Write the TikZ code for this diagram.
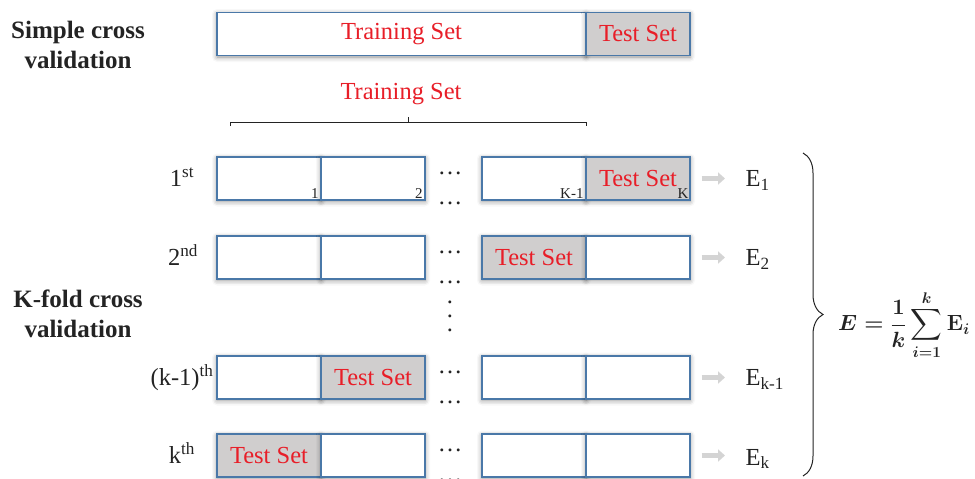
\RequirePackage{fix-cm}
\documentclass[tikz,border=0pt]{standalone}
\usepackage{amsmath}
\usepackage{amssymb}
\usepackage{fontspec}
\setmainfont{Liberation Serif}
\usetikzlibrary{arrows.meta, calc, decorations.pathreplacing, shadows.blur}
\definecolor{foldblue}{RGB}{74,120,168}
\definecolor{testgray}{RGB}{208,206,206}
\definecolor{setred}{RGB}{232,30,40}
\definecolor{arrowgray}{RGB}{212,212,212}
\definecolor{inkgray}{RGB}{35,35,35}
\newcommand{\kfoldmean}{\mbox{\boldmath$\displaystyle E = \frac{\mathbf{1}}{k}\sum_{i=\mathbf{1}}^{k}\mathbf{E}_{i}$}}

\begin{document}
\begin{tikzpicture}[x = 1pt, y = -1pt, line width = 1.3pt,
                    fold/.style = {rectangle, draw = foldblue, fill = white, minimum width = 104pt, minimum height = 43pt,
                                   inner sep = 0pt, text = setred, font = \fontsize{24.5}{28}\selectfont,
                                   blur shadow = {shadow xshift = 0pt, shadow yshift = -1.5pt, shadow blur radius = 5pt, shadow opacity = 45}},
                    testfold/.style = {fold, fill = testgray},
                    title/.style = {align = center, text = inkgray, font = \bfseries\fontsize{25}{30}\selectfont},
                    ordinal/.style = {anchor = base, text = inkgray, font = \fontsize{24.5}{28}\selectfont},
                    errlabel/.style = {anchor = base west, inner sep = 0pt, text = inkgray, font = \fontsize{24.5}{28}\selectfont},
                    foldidx/.style = {anchor = south east, inner xsep = 2.5pt, inner ysep = 1.5pt, text = inkgray, font = \fontsize{15}{18}\selectfont},
                    hdots/.style = {anchor = base, inner sep = 0pt, text = inkgray, font = \fontsize{24.5}{28}\selectfont},
                    errarrow/.style = {draw = arrowgray, line width = 5pt, -{Triangle[length = 7pt, width = 12pt]}}]
  \useasboundingbox (0, 0) rectangle (975, 479);
  \node [title] (simple) at (78, 45) {Simple cross\\validation};
  \node [title] (kfold) at (78, 313.5) {K-fold cross\\validation};
  \node [fold, minimum width = 369pt] (train) at (401.5, 34) {Training Set};
  \node [testfold] (test) at (638, 34) {Test Set};
  \node [text = setred, font = \fontsize{24.5}{28}\selectfont] (trainlabel) at (401, 94) {Training Set};
  \draw [inkgray, line width = 1pt] (230, 126) -- (230, 122) -- (586, 122) -- (586, 126);
  \draw [inkgray, line width = 1pt] (408, 122) -- (408, 117);
  \node [fold] (R1a) at (269, 178.5) {};
  \node [fold] (R1b) at (373, 178.5) {};
  \node [fold] (R1c) at (534, 178.5) {};
  \node [testfold] (R1d) at (638, 178.5) {Test Set};
  \node [fold] (R2a) at (269, 257.5) {};
  \node [fold] (R2b) at (373, 257.5) {};
  \node [testfold] (R2c) at (534, 257.5) {Test Set};
  \node [fold] (R2d) at (638, 257.5) {};
  \node [fold] (R3a) at (269, 377.5) {};
  \node [testfold] (R3b) at (373, 377.5) {Test Set};
  \node [fold] (R3c) at (534, 377.5) {};
  \node [fold] (R3d) at (638, 377.5) {};
  \node [testfold] (R4a) at (269, 455.5) {Test Set};
  \node [fold] (R4b) at (373, 455.5) {};
  \node [fold] (R4c) at (534, 455.5) {};
  \node [fold] (R4d) at (638, 455.5) {};
  \node [foldidx] (idx1) at (R1a.south east) {1};
  \node [foldidx] (idx2) at (R1b.south east) {2};
  \node [foldidx] (idx3) at (R1c.south east) {K-1};
  \node [foldidx, inner xsep = 1.5pt] (idx4) at (R1d.south east) {K};
  \node [ordinal] (ord1) at (182, 186.5) {1\textsuperscript{st}};
  \node [ordinal] (ord2) at (183, 265.5) {2\textsuperscript{nd}};
  \node [ordinal] (ord3) at (182, 385.5) {(k-1)\textsuperscript{th}};
  \node [ordinal] (ord4) at (182, 463.5) {k\textsuperscript{th}};
  \node [hdots] (dots1a) at (450, 174) {…};
  \node [hdots] (dots1b) at (450, 204) {…};
  \node [hdots] (dots2a) at (450, 253) {…};
  \node [hdots] (dots2b) at (450, 283) {…};
  \node [hdots] (dots3a) at (450, 373) {…};
  \node [hdots] (dots3b) at (450, 403) {…};
  \node [hdots] (dots4a) at (450, 451) {…};
  \node [hdots] (dots4b) at (450, 481) {…};
  \node [align = center, inner sep = 0pt, text = inkgray, font = \fontsize{24.5}{14}\selectfont] (vdots) at (450, 316) {.\\.\\.};
  \node [errlabel] (E1) at (745, 186.5) {E\textsubscript{1}};
  \node [errlabel] (E2) at (745, 265.5) {E\textsubscript{2}};
  \node [errlabel] (E3) at (745, 385.5) {E\textsubscript{k-1}};
  \node [errlabel] (E4) at (745, 465) {E\textsubscript{k}};
  \draw [errarrow] ([xshift = 11pt]R1d.east) -- ($(R1d.east -| E1.west) + (-20, 0)$);
  \draw [errarrow] ([xshift = 11pt]R2d.east) -- ($(R2d.east -| E2.west) + (-20, 0)$);
  \draw [errarrow] ([xshift = 11pt]R3d.east) -- ($(R3d.east -| E3.west) + (-20, 0)$);
  \draw [errarrow] ([xshift = 11pt]R4d.east) -- ($(R4d.east -| E4.west) + (-20, 0)$);
  \coordinate (braceTop) at (803, 153);
  \coordinate (braceBot) at (803, 476);
  \draw [inkgray, line width = 1pt, decorate, decoration = {brace, amplitude = 20pt}] (braceTop) -- (braceBot);
  \node [text = inkgray, font = \fontsize{22}{26}\selectfont] (Eavg) at (904, 325) {\kfoldmean};
\end{tikzpicture}
\end{document}
